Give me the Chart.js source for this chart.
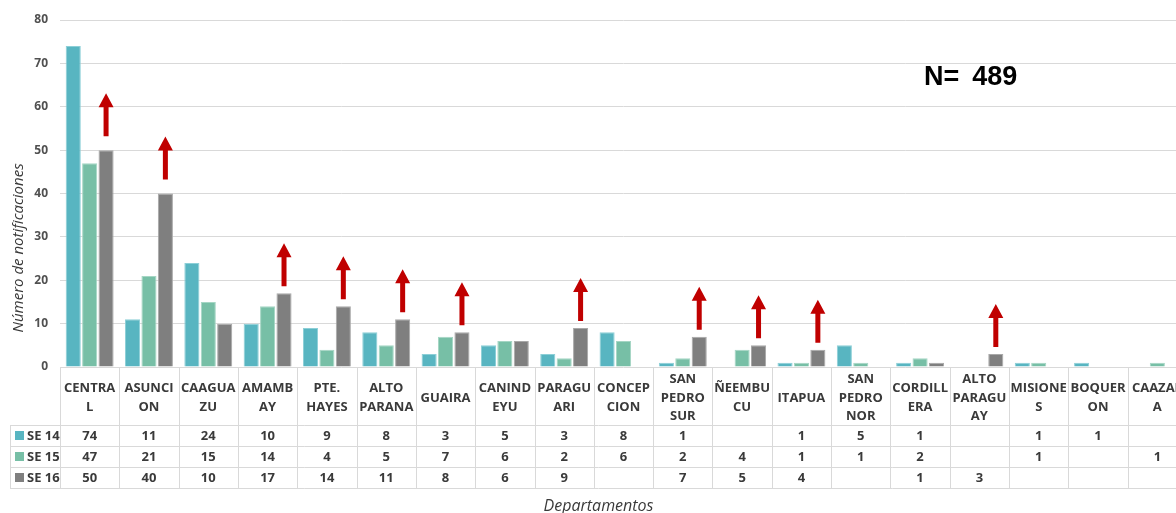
<!DOCTYPE html>
<html>
<head>
<meta charset="utf-8">
<script src="https://cdn.jsdelivr.net/npm/chart.js@4.4.1/dist/chart.umd.min.js"></script>
<style>
  html, body { margin: 0; padding: 0; background: #ffffff; overflow: hidden; width: 1176px; height: 513px; }
  #wrap { width: 1190px; height: 513px; }
</style>
</head>
<body>
<div id="wrap"><canvas id="c" width="1190" height="513"></canvas></div>
<script>
// Departamentos (etiquetas partidas en líneas como en la tabla)
const departamentos = [
  ['CENTRA', 'L'], ['ASUNCI', 'ON'], ['CAAGUA', 'ZU'], ['AMAMB', 'AY'],
  ['PTE.', 'HAYES'], ['ALTO', 'PARANA'], ['GUAIRA'], ['CANIND', 'EYU'],
  ['PARAGU', 'ARI'], ['CONCEP', 'CION'], ['SAN', 'PEDRO', 'SUR'], ['ÑEEMBU', 'CU'],
  ['ITAPUA'], ['SAN', 'PEDRO', 'NOR'], ['CORDILL', 'ERA'], ['ALTO', 'PARAGU', 'AY'],
  ['MISIONE', 'S'], ['BOQUER', 'ON'], ['CAAZAP', 'A']
];

// Notificaciones por semana epidemiológica
const se14 = [74, 11, 24, 10, 9, 8, 3, 5, 3, 8, 1, null, 1, 5, 1, null, 1, 1, null];
const se15 = [47, 21, 15, 14, 4, 5, 7, 6, 2, 6, 2, 4, 1, 1, 2, null, 1, null, 1];
const se16 = [50, 40, 10, 17, 14, 11, 8, 6, 9, null, 7, 5, 4, null, 1, 3, null, null, null];

const semanas = ['SE 14', 'SE 15', 'SE 16'];
const colores = ['#58b5c1', '#77bfa6', '#7f7f7f'];
const bordes = ['#8ccfd7', '#a5d6c4', '#a8a8a8'];

const yMax = 80;
const yPaso = 10;

const series = [se14, se15, se16];
const total = series.reduce((s, arr) => s + arr.reduce((a, v) => a + (v || 0), 0), 0);

const FONT = "'Open Sans', 'DejaVu Sans', sans-serif";
const TEXT = '#3a3a3a';
const LINE = '#d9d9d9';

// Flechas rojas sobre SE 16 cuando aumenta respecto a SE 15
const flechasPlugin = {
  id: 'flechas',
  afterDatasetsDraw(chart, args, opts) {
    const ctx = chart.ctx;
    const meta = chart.getDatasetMeta(2);
    ctx.save();
    ctx.fillStyle = opts.color;
    se16.forEach((v, i) => {
      if (v == null || v <= (se15[i] || 0)) return;
      const bar = meta.data[i];
      const lift = (opts.lift[i] != null) ? opts.lift[i] : opts.gap;
      const tail = bar.y - lift;
      const tip = tail - opts.length;
      const x = bar.x;
      const sw = opts.shaft / 2, hw = opts.head / 2;
      const headBase = tip + opts.headLen;
      ctx.beginPath();
      ctx.moveTo(x - sw, tail);
      ctx.lineTo(x - sw, headBase);
      ctx.lineTo(x - hw, headBase);
      ctx.lineTo(x, tip);
      ctx.lineTo(x + hw, headBase);
      ctx.lineTo(x + sw, headBase);
      ctx.lineTo(x + sw, tail);
      ctx.closePath();
      ctx.fill();
    });
    ctx.restore();
  }
};

// Tabla de datos bajo el eje, títulos y total
const tablaPlugin = {
  id: 'tabla',
  afterDraw(chart, args, opts) {
    const ctx = chart.ctx;
    const xs = chart.scales.x;
    const area = chart.chartArea;
    const n = departamentos.length;
    const half = (xs.getPixelForValue(1) - xs.getPixelForValue(0)) / 2;
    const top = area.bottom;
    const headBottom = top + opts.headHeight;
    const rowH = opts.rowHeight;
    const bottom = headBottom + rowH * 3;
    const left = opts.left;
    const right = xs.getPixelForValue(n - 1) + half;

    ctx.save();
    ctx.strokeStyle = LINE;
    ctx.lineWidth = 1;
    ctx.beginPath();
    for (let i = 0; i <= n; i++) {
      const x = Math.round(xs.getPixelForValue(i) - half) + 0.5;
      ctx.moveTo(x, top);
      ctx.lineTo(x, bottom);
    }
    ctx.moveTo(left + 0.5, headBottom);
    ctx.lineTo(left + 0.5, bottom);
    for (let r = 0; r <= 3; r++) {
      const y = Math.round(headBottom + r * rowH) + 0.5;
      ctx.moveTo(left, y);
      ctx.lineTo(right, y);
    }
    ctx.stroke();

    ctx.font = 'bold 13px ' + FONT;
    ctx.textBaseline = 'middle';
    series.forEach((arr, r) => {
      const cy = headBottom + r * rowH + rowH / 2;
      ctx.fillStyle = colores[r];
      ctx.fillRect(left + 5, cy - 4.5, 9, 9);
      ctx.fillStyle = TEXT;
      ctx.textAlign = 'left';
      ctx.fillText(semanas[r], left + 17, cy + 0.5);
      ctx.textAlign = 'center';
      arr.forEach((v, i) => {
        if (v == null) return;
        ctx.fillText(String(v), xs.getPixelForValue(i), cy + 0.5);
      });
    });

    // Título del eje Y
    ctx.fillStyle = TEXT;
    ctx.font = 'italic 15px ' + FONT;
    ctx.textAlign = 'center';
    ctx.save();
    ctx.translate(19, opts.yTitleY);
    ctx.rotate(-Math.PI / 2);
    ctx.fillText('Número de notificaciones', 0, 0);
    ctx.restore();

    // Título del eje X
    ctx.font = 'italic 16px ' + FONT;
    ctx.fillText('Departamentos', (left + right) / 2, bottom + 18);

    // Total de notificaciones
    ctx.fillStyle = '#000000';
    ctx.font = "bold 27px 'Liberation Sans', Arial, sans-serif";
    ctx.textAlign = 'left';
    const pre = 'N=';
    ctx.fillText(pre, opts.totalX, opts.totalY);
    ctx.fillText(String(total), opts.totalX + ctx.measureText(pre).width + 13, opts.totalY);
    ctx.restore();
  }
};

new Chart(document.getElementById('c'), {
  type: 'bar',
  data: {
    labels: departamentos,
    datasets: series.map((arr, k) => ({
      label: semanas[k],
      data: arr,
      backgroundColor: colores[k],
      borderColor: bordes[k],
      borderWidth: 1,
      categoryPercentage: 0.83,
      barPercentage: 0.92
    }))
  },
  options: {
    responsive: false,
    animation: false,
    layout: { padding: { top: 20, right: 3, bottom: 0, left: 0 } },
    plugins: {
      legend: { display: false },
      tooltip: { enabled: false },
      flechas: { color: '#c00000', gap: 7, lift: { 0: 14, 1: 14 }, length: 43, shaft: 5, head: 15, headLen: 14 },
      tabla: { left: 10, headHeight: 58, rowHeight: 21, totalX: 924, totalY: 78, yTitleY: 248 }
    },
    scales: {
      x: {
        grid: { display: false },
        border: { display: false },
        ticks: {
          autoSkip: false, maxRotation: 0, minRotation: 0,
          padding: 4, crossAlign: 'center',
          color: TEXT,
          font: { family: FONT, size: 13, weight: 'bold', lineHeight: 1.45 }
        },
        afterFit(s) { s.height = 146; }
      },
      y: {
        min: 0, max: yMax,
        ticks: { stepSize: yPaso, padding: 12, color: '#505050', font: { family: FONT, size: 12, weight: 'bold' } },
        grid: { color: LINE, drawTicks: false },
        border: { display: false },
        afterFit(s) { s.width = 60; }
      }
    }
  },
  plugins: [flechasPlugin, tablaPlugin]
});
</script>
</body>
</html>
